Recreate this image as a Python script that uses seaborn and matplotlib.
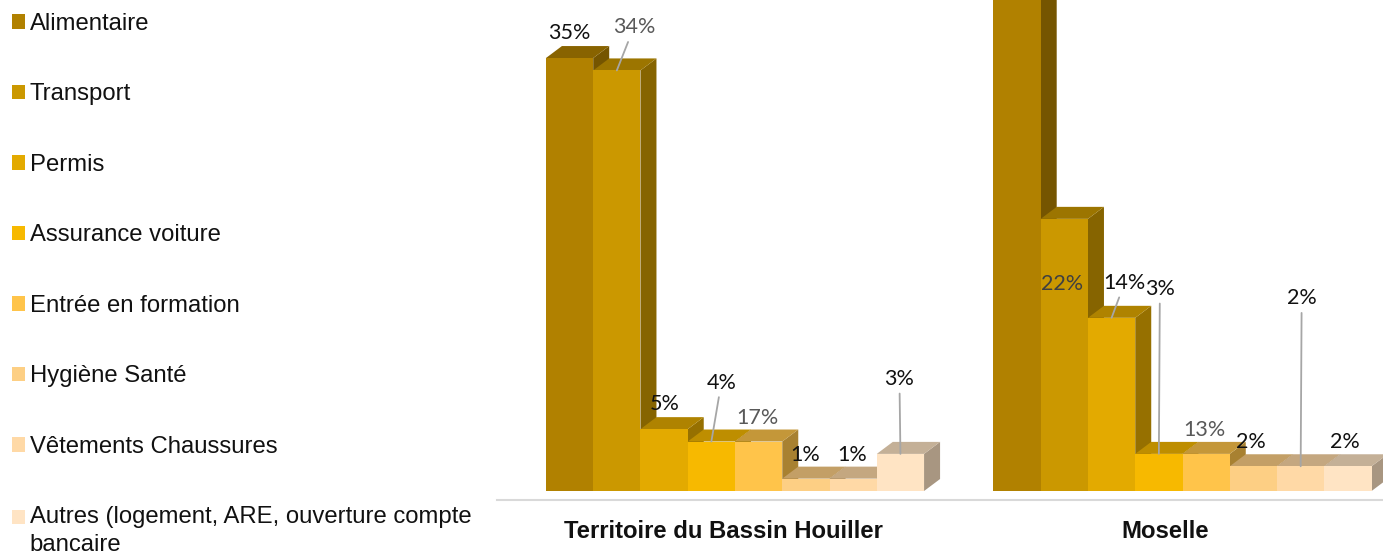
import matplotlib
matplotlib.use("Agg")
import matplotlib.pyplot as plt
import seaborn as sns
import pandas as pd
from matplotlib.patches import Polygon
from matplotlib.colors import to_rgb

territories = ["Territoire du Bassin Houiller", "Moselle"]
categories = ["Alimentaire", "Transport", "Permis", "Assurance voiture", "Entrée en formation",
              "Hygiène Santé", "Vêtements Chaussures",
              "Autres (logement, ARE, ouverture compte\nbancaire"]
bassin_heights = [35, 34, 5, 4, 4, 1, 1, 3]
moselle_heights = [42, 22, 14, 3, 3, 2, 2, 2]
bassin_labels = ["35%", "34%", "5%", "4%", "17%", "1%", "1%", "3%"]
moselle_labels = ["", "22%", "14%", "3%", "13%", "2%", "2%", "2%"]
colors = ["#B18100", "#CB9800", "#E3AA00", "#F7B900", "#FFC44A", "#FDCF84", "#FFD9A6", "#FFE4C4"]

# label layout: centre offset in pixels from the bar's top-centre, text colour, leader
bassin_layout = [(0, 25, "#111111", False), (17, 43, "#595959", True), (1, 25, "#111111", False),
                 (10, 59, "#111111", True), (-1, 24, "#595959", False), (-1, 24, "#111111", False),
                 (-1, 24, "#111111", False), (-1, 75, "#111111", True)]
moselle_layout = [(0, 0, "#111111", False), (-2, -65, "#404040", False), (13, 35, "#111111", True),
                  (1, 165, "#111111", True), (-2, 24, "#595959", False), (-3, 24, "#111111", False),
                  (1, 168, "#111111", True), (-3, 24, "#111111", False)]

W, H = 1383, 553
AX_L, AX_R, AX_T, AX_B = 497, 1383, 0, 500
PX_X = 447.5      # pixels per category step
PX_Y = 12.37      # pixels per percentage point
DEPTH_X, DEPTH_Y = 16 / PX_X, 12 / PX_Y

sns.set_theme(style="white")
plt.rcParams["font.family"] = ["Liberation Sans", "DejaVu Sans"]

df = pd.DataFrame({
    "territory": [territories[0]] * 8 + [territories[1]] * 8,
    "category": categories * 2,
    "value": bassin_heights + moselle_heights,
})

fig = plt.figure(figsize=(W / 100, H / 100), dpi=100)
ax = fig.add_axes([AX_L / W, (H - AX_B) / H, (AX_R - AX_L) / W, (AX_B - AX_T) / H])
sns.barplot(data=df, x="territory", y="value", hue="category", hue_order=categories,
            palette=colors, saturation=1, width=0.845, gap=0, errorbar=None, linewidth=0, ax=ax)

ax.set_xlim((AX_L - 735) / PX_X, (AX_R - 735) / PX_X)
ax.set_ylim(-(AX_B - 491) / PX_Y, 491 / PX_Y)


def shade(c, f):
    return tuple(v * f for v in to_rgb(c))


labels_all = [bassin_labels, moselle_labels]
layout_all = [bassin_layout, moselle_layout]
for i, (container, color) in enumerate(zip(ax.containers, colors)):
    for g, bar in enumerate(container):
        x0, w, h = bar.get_x(), bar.get_width(), bar.get_height()
        x1 = x0 + w
        z = 3 + g * 10 + i * 0.5
        bar.set_zorder(z + 0.2)
        ax.add_patch(Polygon([(x1, 0), (x1 + DEPTH_X, DEPTH_Y), (x1 + DEPTH_X, h + DEPTH_Y), (x1, h)],
                             closed=True, facecolor=shade(color, 0.66), edgecolor="none", zorder=z))
        ax.add_patch(Polygon([(x0, h), (x0 + DEPTH_X, h + DEPTH_Y), (x1 + DEPTH_X, h + DEPTH_Y), (x1, h)],
                             closed=True, facecolor=shade(color, 0.77), edgecolor="none", zorder=z + 0.1))
        text = labels_all[g][i]
        if text:
            dx, dy, tc, leader = layout_all[g][i]
            arrow = dict(arrowstyle="-", color="#A6A6A6", lw=1.3, shrinkA=1, shrinkB=0) if leader else None
            ax.annotate(text, xy=(x0 + w / 2, h), xytext=(dx, dy), textcoords="offset pixels",
                        ha="center", va="center", fontsize=15.5, family=["Lato", "DejaVu Sans"],
                        color=tc, arrowprops=arrow, zorder=50, annotation_clip=False)

sns.despine(ax=ax, left=True, right=True, top=True)
ax.spines["bottom"].set_color("#D9D9D9")
ax.spines["bottom"].set_linewidth(1.5)
ax.set_xlabel("")
ax.set_ylabel("")
ax.set_yticks([])
ax.set_xticks([(723 - 735) / PX_X, (1165 - 735) / PX_X])
ax.set_xticklabels(territories, fontsize=17.2, fontweight="bold", color="#111111")
ax.tick_params(axis="x", length=0, pad=14.5)

handles = [c.patches[0] for c in ax.containers]
old = ax.get_legend()
if old is not None:
    old.remove()
leg = ax.legend(handles, categories, loc="upper left", bbox_to_anchor=(12 / W, 1 - 13 / H),
                bbox_transform=fig.transFigure, frameon=False, fontsize=17.2, borderpad=0,
                borderaxespad=0, handlelength=0.55, handleheight=0.55, handletextpad=0.2,
                labelspacing=2.03, labelcolor="#111111")
leg.get_texts()[-1].set_linespacing(1.3)
last = leg.legend_handles[-1]
last.set_y(last.get_y() + 10)
fig.savefig("out.png", dpi=100)
